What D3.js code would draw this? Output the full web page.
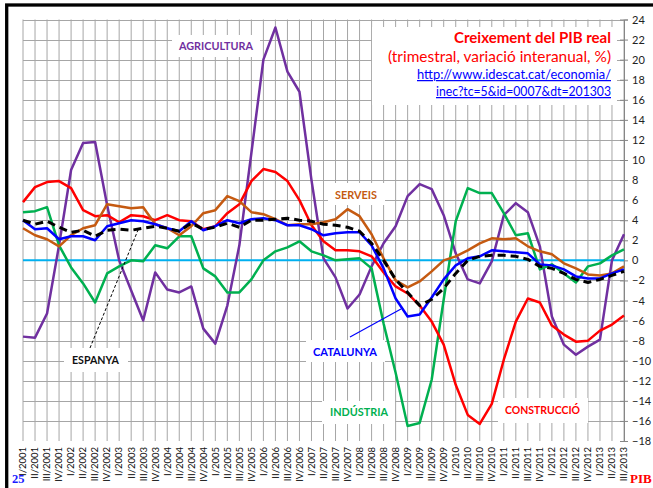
<!DOCTYPE html>
<html>
<head>
<meta charset="utf-8">
<title>Creixement del PIB real</title>
<style>
  body { margin: 0; background: #fff; }
  svg { display: block; font-family: Lato, "Open Sans", sans-serif; }
</style>
</head>
<body>
<svg id="chart"></svg>
<script src="https://d3js.org/d3.v7.min.js"></script>
<script>
// quarters I/2001 .. III/2013
var quarters = ["I/2001","II/2001","III/2001","IV/2001","I/2002","II/2002","III/2002","IV/2002",
  "I/2003","II/2003","III/2003","IV/2003","I/2004","II/2004","III/2004","IV/2004",
  "I/2005","II/2005","III/2005","IV/2005","I/2006","II/2006","III/2006","IV/2006",
  "I/2007","II/2007","III/2007","IV/2007","I/2008","II/2008","III/2008","IV/2008",
  "I/2009","II/2009","III/2009","IV/2009","I/2010","II/2010","III/2010","IV/2010",
  "I/2011","II/2011","III/2011","IV/2011","I/2012","II/2012","III/2012","IV/2012",
  "I/2013","II/2013","III/2013"];

var yTicks = [-18,-16,-14,-12,-10,-8,-6,-4,-2,0,2,4,6,8,10,12,14,16,18,20,22,24];

var agricultura = [-7.6,-7.7,-5.3,1.5,9.0,11.7,11.8,5.5,0.0,-3.0,-6.0,-1.2,-2.9,-3.2,-2.6,-6.8,
  -8.3,-4.5,1.5,10.7,20.0,23.2,18.8,16.8,8.0,0.2,-1.7,-4.8,-3.4,-0.6,1.7,3.4,
  6.4,7.6,7.1,4.5,0.7,-1.9,-2.3,-0.1,4.5,5.7,4.8,1.4,-5.6,-8.4,-9.4,-8.6,
  -7.9,0.0,2.6];

var industria = [4.8,4.9,5.3,1.5,-0.7,-2.3,-4.2,-1.3,-0.6,0.0,-0.1,1.5,1.2,2.4,2.4,-0.8,
  -1.6,-3.2,-3.2,-1.9,0.0,0.9,1.3,1.9,0.9,0.5,0.0,0.1,0.2,-0.8,-6.3,-11.2,
  -16.5,-16.2,-11.9,-3.9,3.9,7.2,6.7,6.7,4.7,2.5,2.7,-0.9,-0.4,-1.3,-2.2,-0.6,
  -0.3,0.5,1.1];

var construccio = [5.8,7.3,7.8,7.9,7.2,5.0,4.4,4.5,3.8,4.5,4.4,4.0,4.5,4.0,3.9,3.1,
  3.4,4.7,5.6,7.9,9.1,8.8,7.9,6.0,3.5,1.9,1.0,1.0,0.9,0.4,-1.2,-2.6,
  -3.3,-4.5,-6.1,-8.4,-12.4,-15.4,-16.3,-14.3,-9.9,-6.1,-3.8,-4.2,-6.5,-7.4,-8.1,-8.0,
  -7.0,-6.4,-5.5];

var serveis = [3.2,2.5,2.1,1.4,2.5,3.2,3.5,5.6,5.4,5.2,5.3,3.6,3.2,2.5,3.4,4.7,
  5.0,6.4,5.9,4.8,4.6,4.1,3.5,3.6,3.6,3.8,4.1,5.1,4.4,2.6,0.2,-2.0,
  -2.7,-2.1,-1.1,0.0,0.4,1.0,1.7,2.2,2.1,2.2,1.4,0.9,0.6,-0.3,-0.8,-1.4,
  -1.5,-1.3,-0.6];

var catalunya = [4.0,3.1,3.2,2.1,2.4,2.4,2.0,3.4,3.7,4.0,3.9,3.6,3.2,2.9,3.9,3.0,
  3.4,4.0,3.7,4.1,4.2,4.0,3.5,3.5,3.1,2.5,2.7,2.8,2.8,1.5,-0.8,-3.8,
  -5.6,-5.4,-3.7,-1.9,-0.5,0.2,0.4,1.0,0.9,0.8,0.7,-0.4,-0.5,-0.9,-1.6,-1.8,
  -1.8,-1.3,-0.9];

var espanya = [4.0,3.6,3.9,3.3,2.8,3.0,2.4,3.0,3.1,3.0,3.2,3.4,3.2,2.9,3.7,3.1,
  3.3,3.7,3.3,4.0,4.0,4.1,4.2,4.0,3.9,3.6,3.5,3.3,2.9,1.7,0.0,-1.9,
  -3.2,-4.5,-3.9,-2.8,-1.3,0.0,0.4,0.5,0.5,0.4,0.1,-0.6,-0.8,-1.3,-1.9,-2.2,
  -1.9,-1.5,-1.1];

var W = 653, H = 488;
var svg = d3.select("#chart").attr("width", W).attr("height", H);

var x = d3.scalePoint().domain(quarters).range([23, 624]);
var y = d3.scaleLinear().domain([-18, 24]).range([441, 19.5]);

// outer frame
svg.append("rect").attr("x", 6.7).attr("y", 5).attr("width", 700).attr("height", 600)
  .attr("fill", "none").attr("stroke", "#000").attr("stroke-width", 3.3);

// grid
var grid = svg.append("g");
grid.selectAll(".vg").data(quarters).enter().append("line")
  .attr("x1", function(d){ return x(d); }).attr("x2", function(d){ return x(d); })
  .attr("y1", y(24)).attr("y2", y(-18))
  .attr("stroke", "#a6a6a6").attr("stroke-width", 1);
grid.selectAll(".hg").data(yTicks.filter(function(t){ return t > -18; })).enter().append("line")
  .attr("x1", x(quarters[0])).attr("x2", x(quarters[quarters.length-1]))
  .attr("y1", function(d){ return Math.round(y(d)) + 0.5; })
  .attr("y2", function(d){ return Math.round(y(d)) + 0.5; })
  .attr("stroke", "#a6a6a6").attr("stroke-width", 1);

// right axis
var axis = svg.append("g").attr("transform", "translate(" + x(quarters[quarters.length-1]) + ",0)")
  .call(d3.axisRight(y).tickValues(yTicks).tickSize(4).tickPadding(4));
axis.select(".domain").attr("stroke", "#868686");
axis.selectAll(".tick line").attr("stroke", "#868686").attr("x1", -4);
axis.selectAll("text").attr("font-family", "Lato, sans-serif").attr("font-size", 11).attr("fill", "#222");

// x labels
svg.append("g").selectAll("text").data(quarters).enter().append("text")
  .attr("transform", function(d){ return "translate(" + x(d) + ",447) rotate(-90)"; })
  .attr("text-anchor", "end").attr("dy", "0.35em")
  .attr("font-size", 9.5).attr("fill", "#111")
  .text(function(d){ return d; });

// white label boxes
var boxes = [
  [372, 27, 245, 78],
  [172, 35, 88, 22],
  [328, 183, 57, 22],
  [64, 348, 64, 24],
  [306, 340, 79, 22],
  [322, 401, 73, 23],
  [498, 398, 90, 25]
];
svg.append("g").selectAll("rect").data(boxes).enter().append("rect")
  .attr("x", function(d){ return d[0]; }).attr("y", function(d){ return d[1]; })
  .attr("width", function(d){ return d[2]; }).attr("height", function(d){ return d[3]; })
  .attr("fill", "#fff");

// zero line
svg.append("line").attr("x1", x(quarters[0])).attr("x2", x(quarters[quarters.length-1]))
  .attr("y1", y(0)).attr("y2", y(0)).attr("stroke", "#00b0f0").attr("stroke-width", 2);

var line = d3.line().x(function(d, i){ return x(quarters[i]); }).y(function(d){ return y(d); });

var series = [
  { v: agricultura, c: "#7030a0", w: 2.5 },
  { v: industria, c: "#00b050", w: 2.5 },
  { v: construccio, c: "#ff0000", w: 2.5 },
  { v: serveis, c: "#c55a11", w: 2.5 },
  { v: catalunya, c: "#0000ff", w: 2.5 },
  { v: espanya, c: "#000000", w: 3, dash: "8,5" }
];
svg.append("g").selectAll("path").data(series).enter().append("path")
  .attr("d", function(s){ return line(s.v); })
  .attr("fill", "none")
  .attr("stroke", function(s){ return s.c; })
  .attr("stroke-width", function(s){ return s.w; })
  .attr("stroke-dasharray", function(s){ return s.dash || null; })
  .attr("stroke-linejoin", "round");

// pointer lines
svg.append("line").attr("x1", 90).attr("y1", 348).attr("x2", 138).attr("y2", 230)
  .attr("stroke", "#000").attr("stroke-width", 1).attr("stroke-dasharray", "3,2");
svg.append("line").attr("x1", 350).attr("y1", 337).attr("x2", 401).attr("y2", 309)
  .attr("stroke", "#0000ff").attr("stroke-width", 1.2);

// series labels
var labels = [
  ["AGRICULTURA", 216, 46, "#7030a0", 74],
  ["SERVEIS", 356, 195, "#c55a11", 42],
  ["ESPANYA", 95.5, 360, "#111", 47],
  ["CATALUNYA", 345, 352, "#0000ff", 64],
  ["INDÚSTRIA", 359, 412, "#00b050", 58],
  ["CONSTRUCCIÓ", 542.5, 410, "#ff0000", 75]
];
svg.append("g").selectAll("text").data(labels).enter().append("text")
  .attr("x", function(d){ return d[1]; }).attr("y", function(d){ return d[2]; })
  .attr("dy", "0.35em").attr("text-anchor", "middle")
  .attr("font-weight", "bold").attr("font-size", 11)
  .attr("fill", function(d){ return d[3]; })
  .attr("textLength", function(d){ return d[4]; })
  .attr("lengthAdjust", "spacingAndGlyphs")
  .text(function(d){ return d[0]; });

// title block
var title = svg.append("g").attr("text-anchor", "end");
title.append("text").attr("x", 611).attr("y", 43).attr("font-size", 15.5).attr("font-weight", "bold")
  .attr("fill", "#ff0000").attr("textLength", 157).attr("lengthAdjust", "spacingAndGlyphs")
  .text("Creixement del PIB real");
title.append("text").attr("x", 611).attr("y", 62).attr("font-size", 15)
  .attr("fill", "#ff0000").attr("textLength", 223).attr("lengthAdjust", "spacingAndGlyphs")
  .text("(trimestral, variació interanual, %)");
title.append("text").attr("x", 611).attr("y", 79).attr("font-size", 12.5)
  .attr("fill", "#0000ff").attr("text-decoration", "underline")
  .attr("textLength", 194).attr("lengthAdjust", "spacingAndGlyphs")
  .text("http://www.idescat.cat/economia/");
title.append("text").attr("x", 611).attr("y", 96).attr("font-size", 12.5)
  .attr("fill", "#0000ff").attr("text-decoration", "underline")
  .attr("textLength", 175).attr("lengthAdjust", "spacingAndGlyphs")
  .text("inec?tc=5&id=0007&dt=201303");

// corner marks
svg.append("text").attr("x", 12).attr("y", 483).attr("font-family", "'Liberation Serif', serif")
  .attr("font-weight", "bold").attr("font-size", 12.5).attr("fill", "#1a1aff").text("25");
svg.append("text").attr("x", 630).attr("y", 483).attr("font-family", "'Liberation Serif', serif")
  .attr("font-weight", "bold").attr("font-size", 13).attr("fill", "#ff0000").text("PIB");
</script>
</body>
</html>
